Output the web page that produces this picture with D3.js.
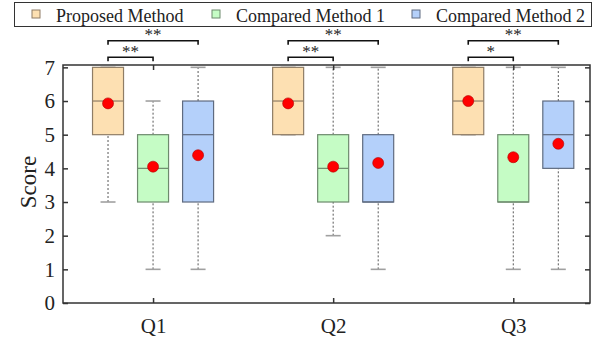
<!DOCTYPE html>
<html>
<head>
<meta charset="utf-8">
<script src="https://cdn.jsdelivr.net/npm/d3@7"></script>
<style>
  body { margin: 0; background: #fff; }
  svg { display: block; font-family: "Liberation Serif", "Times New Roman", serif; }
</style>
</head>
<body>
<div id="chart"></div>
<script>
// Chart data.
var questions = ["Q1", "Q2", "Q3"];
var methods = ["Proposed Method", "Compared Method 1", "Compared Method 2"];
// [min, q1, median, q3, max] per question, per method
var proposedStats = [[3, 5, 6, 7, 7], [5, 5, 6, 7, 7], [5, 5, 6, 7, 7]];
var compared1Stats = [[1, 3, 4, 5, 6], [2, 3, 4, 5, 7], [1, 3, 3, 5, 7]];
var compared2Stats = [[1, 3, 5, 6, 7], [1, 3, 3, 5, 7], [1, 4, 5, 6, 7]];
var proposedMeans = [5.93, 5.93, 6.0];
var compared1Means = [4.05, 4.05, 4.33];
var compared2Means = [4.39, 4.16, 4.73];
var yTicks = [0, 1, 2, 3, 4, 5, 6, 7];
// significance brackets: question index, from method, to method, label, level
var sigQuestion = [0, 0, 1, 1, 2, 2];
var sigFrom = [0, 0, 0, 0, 0, 0];
var sigTo = [1, 2, 1, 2, 1, 2];
var sigLabel = ["**", "**", "**", "**", "*", "**"];
var sigLevel = [0, 1, 0, 1, 0, 1];

var fills = ["#fde0b2", "#c5fcc5", "#b4d0fa"];
var strokes = ["#8f7d66", "#6d8a6d", "#5f6b80"];

var width = 597, height = 339;
var m = { left: 63, right: 590, top: 65, bottom: 303 };

var svg = d3.select("#chart").append("svg")
  .attr("width", width)
  .attr("height", height);

var x = d3.scaleLinear().domain([0.5, 3.426]).range([m.left, m.right]);
var y = d3.scaleLinear().domain([0, 7.07]).range([m.bottom, m.top]);
var offsets = [-0.25, 0, 0.25];
var boxW = 31, capW = 15;

// build rows
var stats = [proposedStats, compared1Stats, compared2Stats];
var means = [proposedMeans, compared1Means, compared2Means];
var rows = [];
questions.forEach(function(q, qi) {
  methods.forEach(function(mName, mi) {
    var s = stats[mi][qi];
    rows.push({ qi: qi, mi: mi, cx: x(qi + 1 + offsets[mi]),
      min: s[0], q1: s[1], med: s[2], q3: s[3], max: s[4], mean: means[mi][qi] });
  });
});

var g = svg.append("g");

// whiskers (dashed)
g.selectAll("line.whiskLo").data(rows).enter().append("line")
  .attr("x1", d => d.cx).attr("x2", d => d.cx)
  .attr("y1", d => y(d.min)).attr("y2", d => y(d.q1))
  .attr("stroke", "#444").attr("stroke-width", 0.9)
  .attr("stroke-dasharray", "2,2");
g.selectAll("line.whiskHi").data(rows).enter().append("line")
  .attr("x1", d => d.cx).attr("x2", d => d.cx)
  .attr("y1", d => y(d.q3)).attr("y2", d => y(d.max))
  .attr("stroke", "#444").attr("stroke-width", 0.9)
  .attr("stroke-dasharray", "2,2");

// whisker caps
["min", "max"].forEach(function(k) {
  g.selectAll("line.cap" + k).data(rows).enter().append("line")
    .attr("x1", d => d.cx - capW / 2).attr("x2", d => d.cx + capW / 2)
    .attr("y1", d => y(d[k])).attr("y2", d => y(d[k]))
    .attr("stroke", "#a0a0a0").attr("stroke-width", 1.6);
});

// boxes
g.selectAll("rect.box").data(rows).enter().append("rect")
  .attr("x", d => d.cx - boxW / 2)
  .attr("y", d => y(d.q3))
  .attr("width", boxW)
  .attr("height", d => y(d.q1) - y(d.q3))
  .attr("fill", d => fills[d.mi])
  .attr("stroke", d => strokes[d.mi])
  .attr("stroke-width", 1.2);

// medians
g.selectAll("line.med").data(rows).enter().append("line")
  .attr("x1", d => d.cx - boxW / 2).attr("x2", d => d.cx + boxW / 2)
  .attr("y1", d => y(d.med)).attr("y2", d => y(d.med))
  .attr("stroke", d => strokes[d.mi]).attr("stroke-width", 1.2);

// means
g.selectAll("circle.mean").data(rows).enter().append("circle")
  .attr("cx", d => d.cx).attr("cy", d => y(d.mean)).attr("r", 5.5)
  .attr("fill", "#ff0000").attr("stroke", "#b00000").attr("stroke-width", 0.6);

// frame
svg.append("rect")
  .attr("x", m.left).attr("y", m.top)
  .attr("width", m.right - m.left).attr("height", m.bottom - m.top)
  .attr("fill", "none").attr("stroke", "#333").attr("stroke-width", 1.5);

function styleAxis(sel) {
  sel.attr("font-size", 21).attr("font-family", "Liberation Serif, serif");
  sel.select(".domain").remove();
  sel.selectAll(".tick line").attr("stroke", "#333").attr("stroke-width", 1.5);
  sel.selectAll("text").attr("fill", "#222");
}

// y axis, ticks inward on both sides
var yAxisL = d3.axisLeft(y).tickValues(yTicks).tickFormat(d3.format("d"))
  .tickSizeInner(-5).tickSizeOuter(0).tickPadding(8);
svg.append("g").attr("transform", "translate(" + m.left + ",0)").call(yAxisL).call(styleAxis);

var yAxisR = d3.axisRight(y).tickValues(yTicks).tickSizeInner(-5).tickSizeOuter(0).tickFormat("");
svg.append("g").attr("transform", "translate(" + m.right + ",0)").call(yAxisR).call(styleAxis);

// x axis, ticks inward top and bottom
var xAxisB = d3.axisBottom(x).tickValues([1, 2, 3]).tickFormat((d, i) => questions[i])
  .tickSizeInner(-5).tickSizeOuter(0).tickPadding(15);
svg.append("g").attr("transform", "translate(0," + m.bottom + ")").call(xAxisB).call(styleAxis);

var xAxisT = d3.axisTop(x).tickValues([1, 2, 3]).tickFormat("").tickSizeInner(-5).tickSizeOuter(0);
svg.append("g").attr("transform", "translate(0," + m.top + ")").call(xAxisT).call(styleAxis);

// y label
svg.append("text")
  .attr("transform", "translate(36," + ((m.top + m.bottom) / 2 - 2) + ") rotate(-90)")
  .attr("text-anchor", "middle")
  .attr("font-size", 23).attr("fill", "#222")
  .text("Score");

// significance brackets
var sig = sigQuestion.map(function(qi, i) {
  return { qi: qi, x1: x(qi + 1 + offsets[sigFrom[i]]), x2: x(qi + 1 + offsets[sigTo[i]]),
    label: sigLabel[i], yb: sigLevel[i] ? 40.7 : 57.3 };
});
var sg = svg.selectAll("g.sig").data(sig).enter().append("g");
sg.append("path")
  .attr("d", d => "M" + d.x1 + "," + (d.yb + 4) + "V" + d.yb + "H" + d.x2 + "V" + (d.yb + 4))
  .attr("fill", "none").attr("stroke", "#111").attr("stroke-width", 1.6);
sg.append("text")
  .attr("x", d => (d.x1 + d.x2) / 2).attr("y", d => d.yb - 0.5)
  .attr("text-anchor", "middle").attr("font-size", 17).attr("fill", "#222")
  .text(d => d.label);

// legend
var legend = svg.append("g");
legend.append("rect")
  .attr("x", 14.5).attr("y", 2.5).attr("width", 577).attr("height", 24)
  .attr("fill", "#fff").attr("stroke", "#333").attr("stroke-width", 1);
var legX = [32, 212, 412];
var items = legend.selectAll("g.item").data(methods).enter().append("g")
  .attr("transform", (d, i) => "translate(" + legX[i] + ",0)");
items.append("rect")
  .attr("x", 0).attr("y", 10).attr("width", 8).attr("height", 8)
  .attr("fill", (d, i) => fills[i]).attr("stroke", (d, i) => strokes[i]).attr("stroke-width", 1);
items.append("text")
  .attr("x", 24).attr("y", 21.5)
  .attr("font-size", 18).attr("fill", "#222")
  .text(d => d);
</script>
</body>
</html>
